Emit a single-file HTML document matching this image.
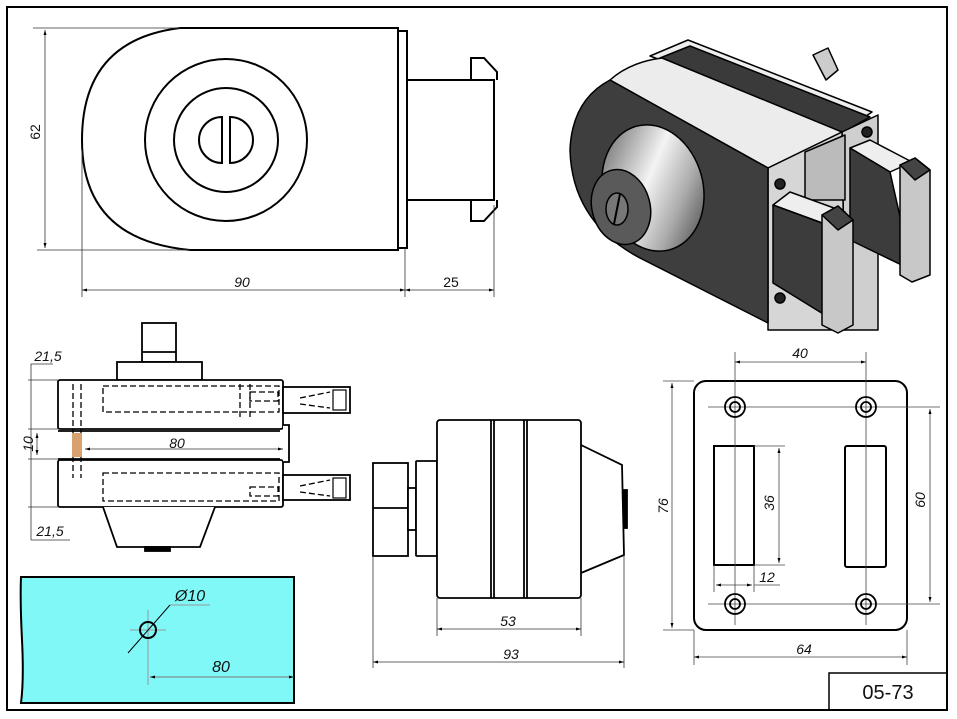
<!DOCTYPE html>
<html><head><meta charset="utf-8"><style>
html,body{margin:0;padding:0;background:#fff;}
svg{display:block;}
text{font-family:"Liberation Sans",Arial,sans-serif;font-style:italic;font-size:14px;fill:#111;}
</style></head><body>
<svg width="957" height="719" viewBox="0 0 957 719" xmlns="http://www.w3.org/2000/svg">
<defs>
<linearGradient id="cone" x1="0" y1="0" x2="1" y2="1">
<stop offset="0" stop-color="#555"/><stop offset="0.45" stop-color="#f4f4f4"/><stop offset="0.7" stop-color="#aaa"/><stop offset="1" stop-color="#333"/>
</linearGradient>
<marker id="ar" viewBox="0 0 10 10" refX="10" refY="5" markerUnits="userSpaceOnUse" markerWidth="10" markerHeight="5" orient="auto-start-reverse"><path d="M0,2 L10,5 L0,8Z" fill="#000"/></marker>
</defs>
<rect x="7" y="7" width="940" height="703" fill="none" stroke="#000" stroke-width="2"/>
<rect x="829" y="673" width="118" height="37" fill="none" stroke="#000" stroke-width="1.5"/>
<text x="888" y="699" text-anchor="middle" style="font-style:normal;font-size:20px">05-73</text>

<!-- TOP VIEW -->
<g fill="none" stroke="#000" stroke-width="2">
<path d="M398 28 L180 28 Q82 40 82 140 Q82 240 190 250 L398 250 Z" fill="#fff"/>
<rect x="398" y="31" width="9" height="217"/>
<rect x="407" y="80" width="87" height="120"/>
<path d="M471 80 L471 58 L484 58 L497 72 L497 80"/>
<path d="M471 200 L471 221 L484 221 L497 207 L497 200"/>
<circle cx="226" cy="140" r="81"/>
<circle cx="226" cy="140" r="52"/>
<path d="M222 117 A23 23 0 0 0 222 163 Z"/>
<path d="M230 117 A23 23 0 0 1 230 163 Z"/>
</g>
<g stroke="#333" stroke-width="0.8" fill="none">
<line x1="33" y1="28" x2="180" y2="28"/><line x1="37" y1="250" x2="190" y2="250"/>
<line x1="45" y1="30" x2="45" y2="248" marker-start="url(#ar)" marker-end="url(#ar)"/>
<line x1="82" y1="150" x2="82" y2="297"/><line x1="405" y1="248" x2="405" y2="297"/><line x1="494" y1="205" x2="494" y2="297"/>
<line x1="82" y1="290" x2="405" y2="290" marker-start="url(#ar)" marker-end="url(#ar)"/>
<line x1="405" y1="290" x2="494" y2="290" marker-start="url(#ar)" marker-end="url(#ar)"/>
</g>
<text x="40" y="132" text-anchor="middle" transform="rotate(-90 40 132)" style="font-style:normal">62</text>
<text x="242" y="287" text-anchor="middle">90</text>
<text x="451" y="287" text-anchor="middle" style="font-style:normal">25</text>

<!-- ISO VIEW -->
<g stroke="#000" stroke-width="1.5" stroke-linejoin="round">
<path d="M813 55 L828 48 L838 70 L826 80 Z" fill="#ccc"/>
<path d="M650 56 L688 40 L872 112 L845 130 Z" fill="#eee"/>
<path d="M660 58 L690 46 L870 117 L840 134 Z" fill="#3a3a3a"/>
<path d="M610 80 Q630 62 662 58 L842 132 L768 168 Z" fill="#ececec"/>
<path d="M842 132 L878 115 L878 330 L845 330 Z" fill="#cfcfcf"/>
<path d="M768 168 L842 132 L845 330 L768 330 Z" fill="#d6d6d6"/>
<path d="M805 152 L845 135 L845 200 L805 200 Z" fill="#bbb"/>
<path d="M610 80 L768 168 L768 323 L640 258 Q572 222 570 150 Q572 100 610 80 Z" fill="#3e3e3e"/>
<ellipse cx="653" cy="188" rx="50" ry="64" transform="rotate(-15 653 188)" fill="url(#cone)"/>
<ellipse cx="621" cy="207" rx="29" ry="38" transform="rotate(-15 621 207)" fill="#5a5a5a"/>
<ellipse cx="617" cy="209" rx="11" ry="16" fill="#777"/>
<line x1="620" y1="194" x2="614" y2="224" stroke-width="2"/>
<circle cx="780" cy="184" r="5" fill="#222"/>
<circle cx="867" cy="132" r="5" fill="#222"/>
<circle cx="780" cy="298" r="5" fill="#222"/>
<path d="M850 148 L870 140 L912 162 L890 172 Z" fill="#eee"/>
<path d="M850 148 L890 172 L912 270 L850 240 Z" fill="#3c3c3c"/>
<path d="M900 165 L915 158 L930 170 L930 275 L912 282 L900 275 Z" fill="#c8c8c8"/>
<path d="M900 165 L915 158 L930 170 L915 180 Z" fill="#444"/>
<path d="M773 205 L790 192 L845 212 L833 227 Z" fill="#eee"/>
<path d="M773 205 L833 227 L833 320 L773 283 Z" fill="#3c3c3c"/>
<path d="M822 215 L838 206 L853 220 L853 325 L838 333 L822 325 Z" fill="#c8c8c8"/>
<path d="M822 215 L838 206 L853 220 L838 230 Z" fill="#444"/>
</g>

<!-- SIDE VIEW -->
<g fill="#fff" stroke="#000" stroke-width="1.8">
<rect x="142" y="323" width="34" height="39"/>
<line x1="142" y1="352" x2="176" y2="352"/>
<rect x="117" y="362" width="85" height="18"/>
<rect x="58" y="380" width="225" height="49" rx="2"/>
<rect x="58" y="460" width="225" height="47" rx="2"/>
<line x1="58" y1="431" x2="280" y2="431"/><line x1="58" y1="459" x2="280" y2="459"/>
<path d="M283 425 L289 425 L289 462 L283 462"/>
<path d="M103 507 L117 547 L200 547 L215 507"/>
<rect x="283" y="387" width="67" height="26"/>
<rect x="283" y="475" width="67" height="25"/>
<rect x="145" y="547" width="25" height="4" fill="#000"/>
</g>
<g fill="none" stroke="#000" stroke-width="1.3" stroke-dasharray="6,3">
<rect x="103" y="386" width="176" height="26"/>
<rect x="103" y="473" width="176" height="28"/>
<rect x="250" y="392" width="28" height="9"/>
<rect x="250" y="487" width="28" height="9"/>
<path d="M73 384 L73 478 M81 384 L81 478"/>
<path d="M240 384 L240 417 M250 384 L250 417"/>
<path d="M300 398 L330 392 M300 404 L330 408"/>
<path d="M300 486 L330 480 M300 492 L330 496"/>
</g>
<g stroke="#000" stroke-width="1.2" fill="none">
<rect x="333" y="390" width="13" height="20"/><rect x="333" y="478" width="13" height="20"/>
</g>
<rect x="72" y="433" width="10" height="24" fill="#d9a070"/>
<g stroke="#333" stroke-width="0.8" fill="none">
<polyline points="53,364 31,364 31,507"/>
<line x1="28" y1="380" x2="58" y2="380"/><line x1="28" y1="429" x2="58" y2="429"/>
<line x1="28" y1="459" x2="58" y2="459"/><line x1="28" y1="507" x2="58" y2="507"/>
<line x1="31" y1="507" x2="31" y2="540"/><line x1="31" y1="540" x2="70" y2="540"/>
<line x1="37" y1="433" x2="37" y2="455" marker-start="url(#ar)" marker-end="url(#ar)"/>
<line x1="85" y1="449" x2="283" y2="449" marker-start="url(#ar)" marker-end="url(#ar)"/>
</g>
<text x="48" y="361" text-anchor="middle">21,5</text>
<text x="50" y="536" text-anchor="middle">21,5</text>
<text x="33" y="444" text-anchor="middle" transform="rotate(-90 33 444)">10</text>
<text x="177" y="448" text-anchor="middle">80</text>

<!-- GLASS -->
<path d="M21 577 L294 577 L294 703 L21 703 Q24 680 22 640 Q20 600 21 577 Z" fill="#80f8f8" stroke="#000" stroke-width="2"/>
<g stroke="#999" stroke-width="1" fill="none">
<line x1="148" y1="610" x2="148" y2="685"/><line x1="130" y1="630" x2="166" y2="630"/>
<line x1="150" y1="677" x2="294" y2="677" stroke="#777" marker-start="url(#ar)" marker-end="url(#ar)"/>
<line x1="170" y1="605" x2="210" y2="605"/>
</g>
<line x1="170" y1="605" x2="128" y2="653" stroke="#000" stroke-width="1"/>
<circle cx="148" cy="630" r="8" fill="none" stroke="#000" stroke-width="2"/>
<text x="190" y="601" text-anchor="middle" style="font-size:16px">Ø10</text>
<text x="221" y="672" text-anchor="middle" style="font-size:16px">80</text>

<!-- FRONT VIEW -->
<g fill="#fff" stroke="#000" stroke-width="1.8">
<path d="M581 445 L622 465 L624 555 L581 573"/>
<rect x="624" y="490" width="3" height="38" fill="#000"/>
<rect x="373" y="463" width="35" height="93"/>
<line x1="373" y1="508" x2="408" y2="508"/>
<rect x="408" y="488" width="8" height="42"/>
<rect x="416" y="461" width="21" height="95" rx="1"/>
<rect x="437" y="420" width="144" height="178" rx="3"/>
<line x1="491" y1="420" x2="491" y2="598"/><line x1="494" y1="420" x2="494" y2="598"/>
<line x1="524" y1="420" x2="524" y2="598"/><line x1="527" y1="420" x2="527" y2="598"/>
</g>
<g stroke="#333" stroke-width="0.8" fill="none">
<line x1="437" y1="598" x2="437" y2="636"/><line x1="581" y1="598" x2="581" y2="636"/>
<line x1="373" y1="556" x2="373" y2="668"/><line x1="624" y1="555" x2="624" y2="668"/>
<line x1="437" y1="629" x2="581" y2="629" marker-start="url(#ar)" marker-end="url(#ar)"/>
<line x1="373" y1="662" x2="624" y2="662" marker-start="url(#ar)" marker-end="url(#ar)"/>
</g>
<text x="508" y="626" text-anchor="middle">53</text>
<text x="511" y="659" text-anchor="middle">93</text>

<!-- PLATE -->
<rect x="694" y="381" width="213" height="249" rx="12" fill="#fff" stroke="#000" stroke-width="2"/>
<rect x="714" y="446" width="40" height="119" fill="none" stroke="#000" stroke-width="2"/>
<rect x="845" y="446" width="41" height="121" rx="2" fill="none" stroke="#000" stroke-width="2"/>
<g stroke="#444" stroke-width="0.8" fill="none">
<line x1="735" y1="352" x2="735" y2="625"/><line x1="866" y1="352" x2="866" y2="625"/>
<line x1="708" y1="407" x2="940" y2="407"/><line x1="708" y1="604" x2="940" y2="604"/>
<line x1="735" y1="362" x2="866" y2="362" marker-start="url(#ar)" marker-end="url(#ar)"/>
<line x1="663" y1="381" x2="694" y2="381"/><line x1="663" y1="630" x2="694" y2="630"/>
<line x1="672" y1="383" x2="672" y2="628" marker-start="url(#ar)" marker-end="url(#ar)"/>
<line x1="930" y1="409" x2="930" y2="602" marker-start="url(#ar)" marker-end="url(#ar)"/>
<line x1="754" y1="446" x2="785" y2="446"/><line x1="754" y1="565" x2="785" y2="565"/>
<line x1="779" y1="448" x2="779" y2="563" marker-start="url(#ar)" marker-end="url(#ar)"/>
<line x1="714" y1="565" x2="714" y2="592"/><line x1="754" y1="565" x2="754" y2="592"/>
<line x1="716" y1="585" x2="752" y2="585" marker-start="url(#ar)" marker-end="url(#ar)"/>
<line x1="754" y1="585" x2="780" y2="585"/>
<line x1="694" y1="630" x2="694" y2="665"/><line x1="907" y1="630" x2="907" y2="665"/>
<line x1="694" y1="657" x2="907" y2="657" marker-start="url(#ar)" marker-end="url(#ar)"/>
</g>
<g fill="none" stroke="#000" stroke-width="1.8">
<circle cx="735" cy="407" r="10"/><circle cx="735" cy="407" r="5"/>
<circle cx="866" cy="407" r="10"/><circle cx="866" cy="407" r="5"/>
<circle cx="735" cy="604" r="10"/><circle cx="735" cy="604" r="5"/>
<circle cx="866" cy="604" r="10"/><circle cx="866" cy="604" r="5"/>
</g>
<text x="800" y="358" text-anchor="middle">40</text>
<text x="668" y="506" text-anchor="middle" transform="rotate(-90 668 506)">76</text>
<text x="925" y="500" text-anchor="middle" transform="rotate(-90 925 500)">60</text>
<text x="774" y="503" text-anchor="middle" transform="rotate(-90 774 503)">36</text>
<text x="767" y="582" text-anchor="middle">12</text>
<text x="804" y="654" text-anchor="middle">64</text>
</svg>
</body></html>
